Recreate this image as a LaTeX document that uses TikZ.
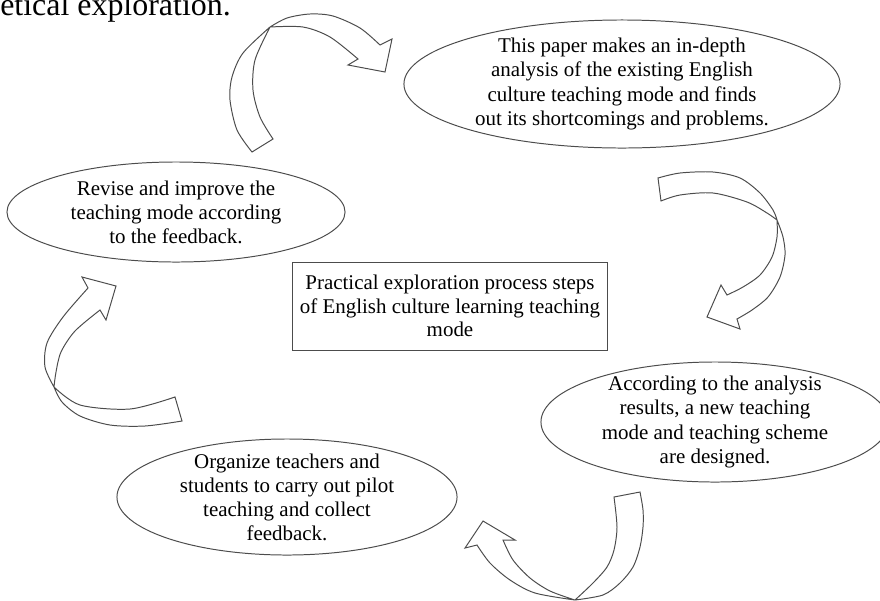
\documentclass[tikz,border=0pt]{standalone}
\usepackage{fontspec}
\setmainfont{Liberation Serif}
\usetikzlibrary{shapes.geometric}

\tikzset{
  stage/.style={ellipse, draw=black!70, line width=0.7pt, fill=white, inner xsep=0pt, inner ysep=-4pt, align=center, font=\fontsize{14.9}{17.1}\selectfont},
  core/.style={rectangle, draw=black!70, line width=0.7pt, align=center, inner sep=0pt, font=\fontsize{14.9}{16.5}\selectfont},
  band/.style={draw=black!70, line width=0.7pt, line join=miter}
}

\begin{document}
\begin{tikzpicture}[x=0.025cm, y=-0.025cm]
    \useasboundingbox (0,0) rectangle (880,600);
    \clip (0,0) rectangle (880,600);
    \node[anchor=base west, inner sep=0pt, font=\fontsize{22.7}{26}\selectfont] (title) at (0,15) {etical exploration.};

    \node[stage, minimum width=10.9cm, minimum height=3.2cm] (analyse) at (622,84) {This paper makes an in-depth\\analysis of the existing English\\culture teaching mode and finds\\out its shortcomings and problems.};
    \node[stage, minimum width=8.45cm, minimum height=2.5cm] (revise) at (176,212) {Revise and improve the\\teaching mode according\\to the feedback.};
    \node[stage, minimum width=8.7cm, minimum height=3cm] (design) at (715,422) {According to the analysis\\results, a new teaching\\mode and teaching scheme\\are designed.};
    \node[stage, minimum width=8.5cm, minimum height=2.9cm] (pilot) at (287,497) {Organize teachers and\\students to carry out pilot\\teaching and collect\\feedback.};
    \node[core, minimum width=7.85cm, minimum height=2.2cm] (core) at (450,306) {Practical exploration process steps\\of English culture learning teaching\\mode};

    % curved block arrows
    \draw[band] plot[smooth] coordinates {(252,152) (237,130) (230,100) (232,77) (243,53) (270,27)}
        -- plot[smooth] coordinates {(270,27) (303,27) (330,37) (358,59)}
        -- (348,65) -- (385,72) -- (392,39) -- (380,45)
        -- plot[smooth] coordinates {(380,45) (360,28) (333,16) (310,14) (287,18) (270,27)}
        -- plot[smooth] coordinates {(270,27) (255,60) (253,90) (260,117) (273,139)}
        -- cycle;
    \draw[band] plot[smooth] coordinates {(658,178) (680,173) (713,172) (740,178) (760,193) (773,210) (777,220)}
        -- plot[smooth] coordinates {(777,220) (783,237) (785,255) (780,277) (768,297) (752,310) (737,319)}
        -- (740,329) -- (707,317) -- (721,285) -- (727,295)
        -- plot[smooth] coordinates {(727,295) (743,287) (760,275) (772,257) (777,237) (777,220)}
        -- plot[smooth] coordinates {(777,220) (767,213) (747,202) (713,193) (680,195) (661,201)}
        -- cycle;
    \draw[band] plot[smooth] coordinates {(640,492) (643,510) (643,527) (640,547) (633,567) (620,583) (603,595) (575,600)}
        -- plot[smooth] coordinates {(575,600) (550,591) (530,578) (513,560) (503,540)}
        -- (515,540) -- (483,521) -- (465,548) -- (477,545)
        -- plot[smooth] coordinates {(477,545) (490,563) (510,580) (535,593) (575,600)}
        -- plot[smooth] coordinates {(575,600) (593,583) (607,567) (614,550) (617,527) (614,497)}
        -- cycle;
    \draw[band] plot[smooth] coordinates {(88,288) (63,317) (47,343) (45,367) (54,387)}
        -- plot[smooth] coordinates {(54,387) (80,405) (130,409) (175,397)}
        -- (182,421)
        -- plot[smooth] coordinates {(182,421) (145,426) (110,425) (80,416) (62,402) (54,387)}
        -- plot[smooth] coordinates {(54,387) (56,372) (61,352) (75,331) (100,310)}
        -- (106,320) -- (116,286) -- (82,277) -- cycle;
\end{tikzpicture}
\end{document}
